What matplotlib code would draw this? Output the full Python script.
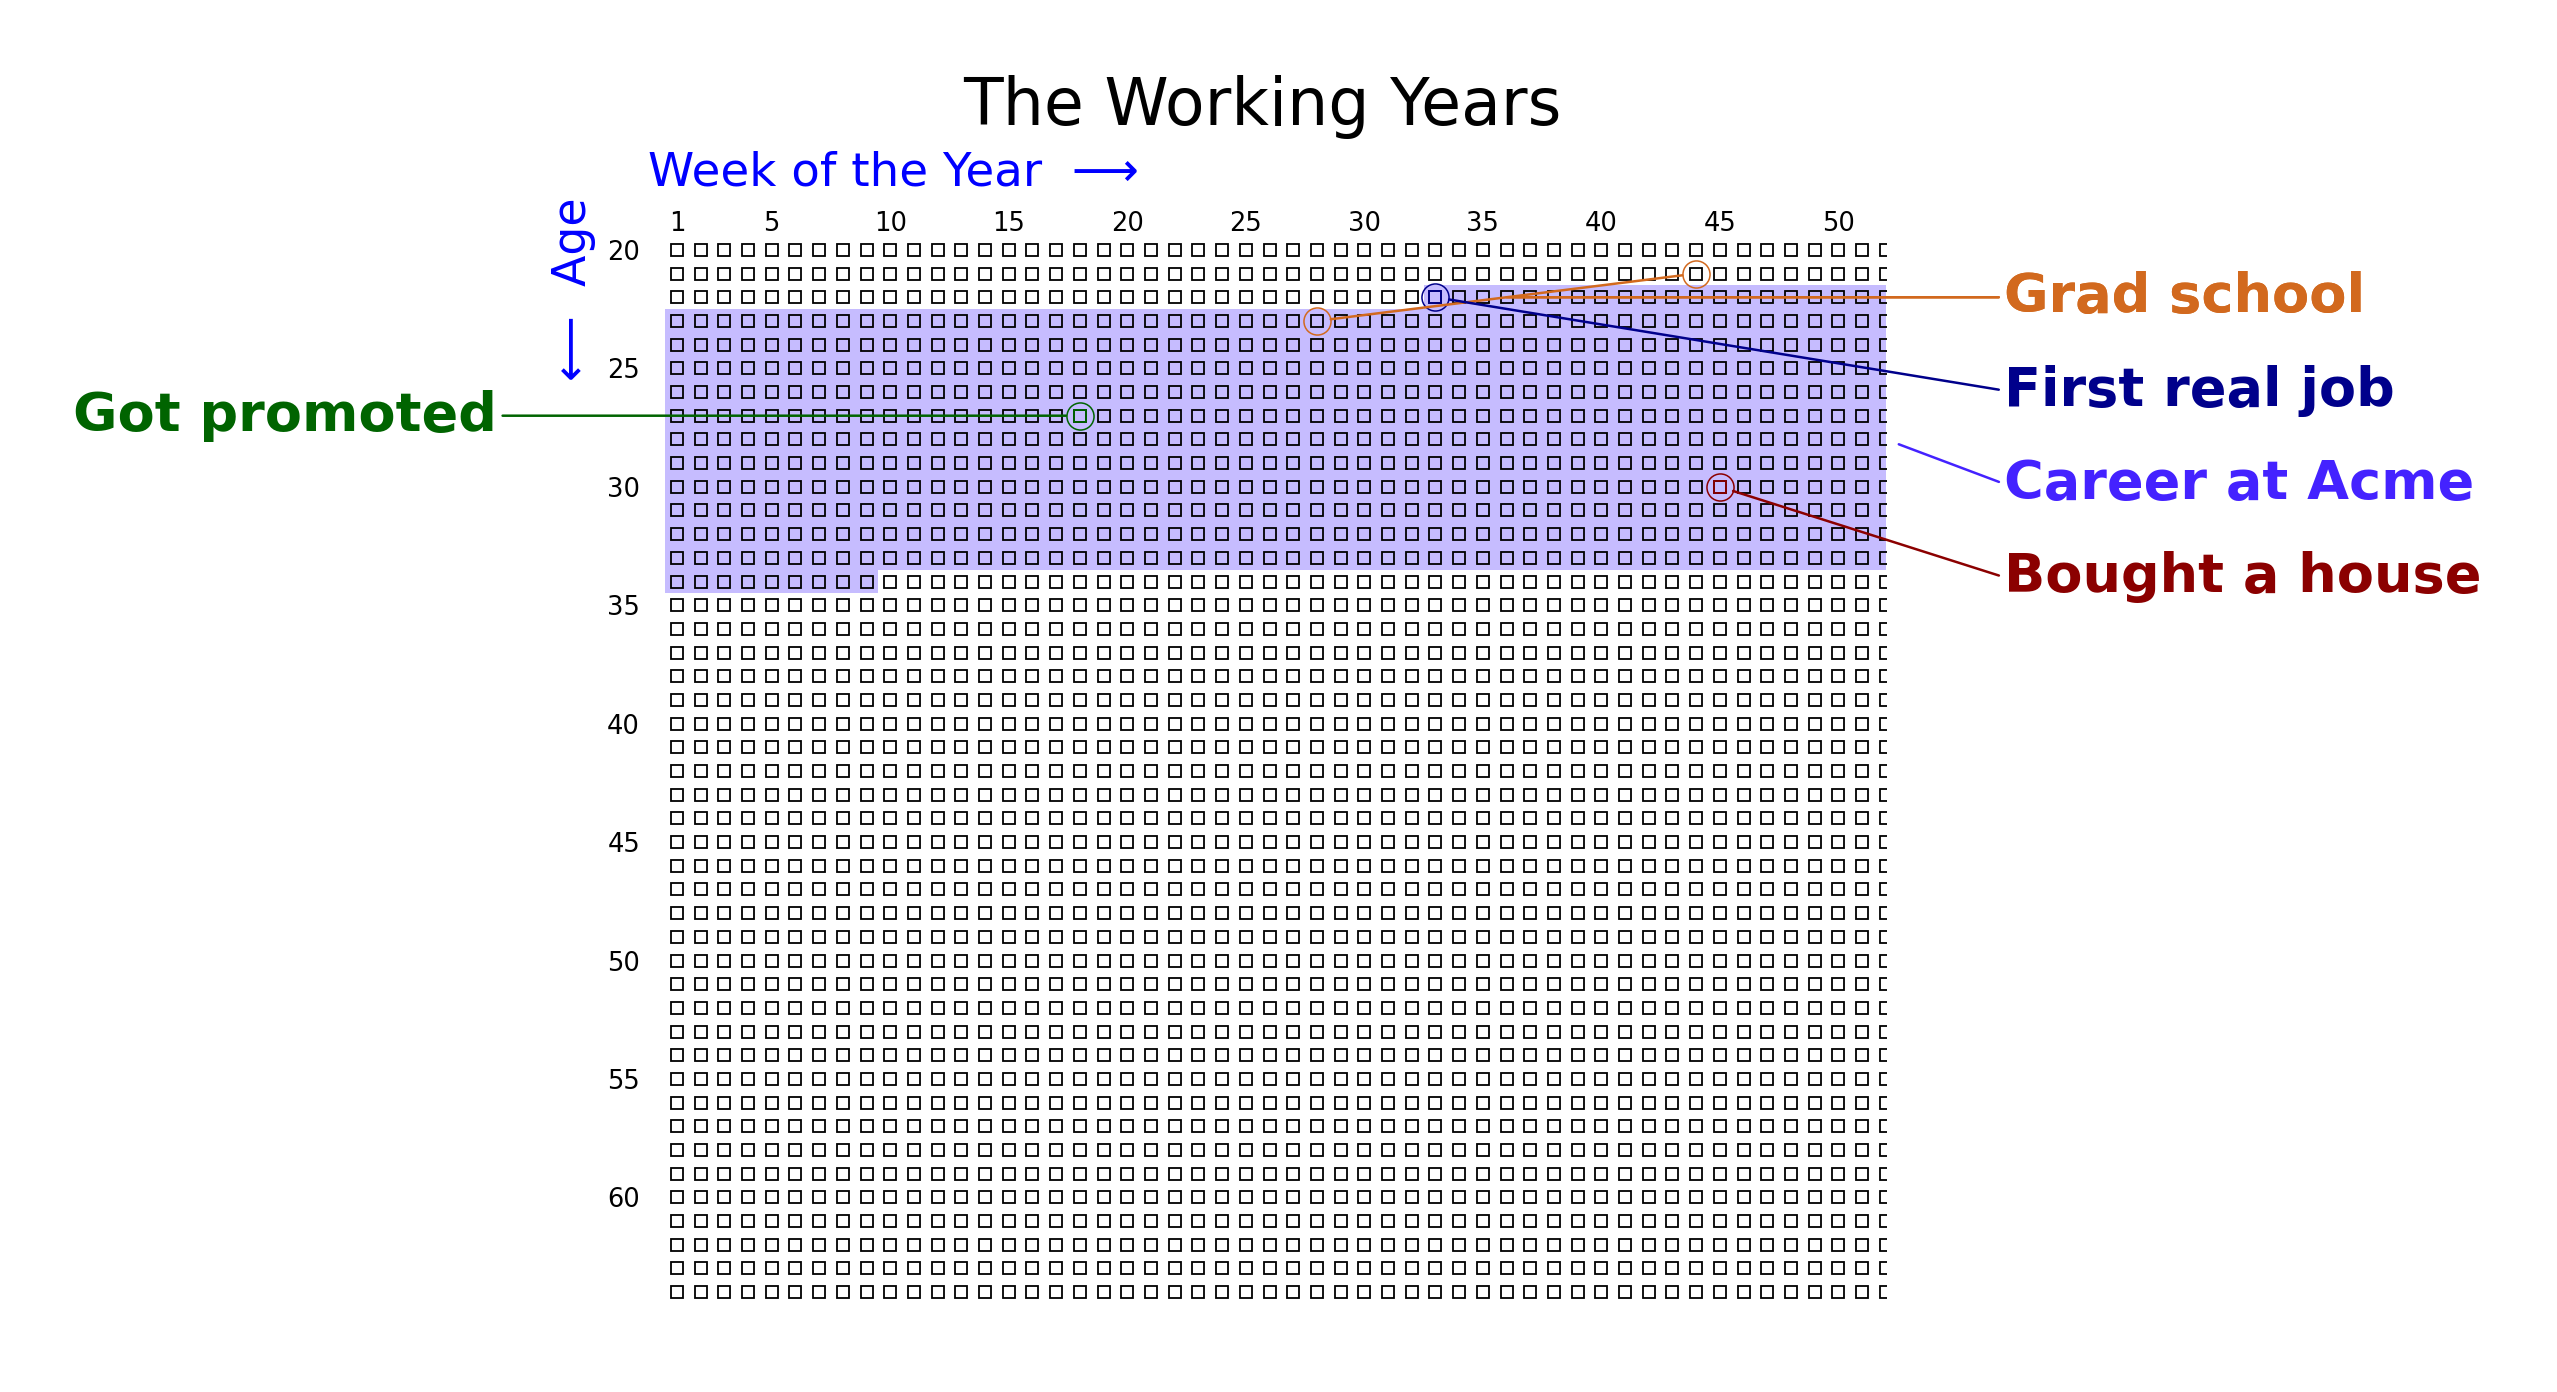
import numpy as np
import matplotlib
matplotlib.use("Agg")
import matplotlib.pyplot as plt

# grid of weeks x ages
weeks = np.arange(1, 53)
ages = np.arange(20, 65)

# career span (week, age)
career_start = (33, 22)
career_end = (9, 34)

# life events
grad_weeks = [28, 44]
grad_ages = [23, 21]
job_week, job_age = 33, 22
house_week, house_age = 45, 30
promo_week, promo_age = 18, 27

xticks = [1, 5, 10, 15, 20, 25, 30, 35, 40, 45, 50]
yticks = [20, 25, 30, 35, 40, 45, 50, 55, 60]

c_grad = '#d2691e'
c_job = '#00008b'
c_acme = '#4422ff'
c_house = '#8b0000'
c_promo = '#006400'

fig = plt.figure(figsize=(25.57, 13.92), dpi=100)
ax = fig.add_axes([0.2601, 0.0632, 0.4774, 0.7658])

xmin, xmax = 0.5, 52
ax.set_xlim(xmin, xmax)
ax.set_ylim(ages[-1] + 0.5, ages[0] - 0.5)

# shaded career block
sw, sa = career_start
ew, ea = career_end
right = weeks[-1] + 0.5
poly_x = [sw - 0.5, right, right, ew + 0.5, ew + 0.5, xmin, xmin, sw - 0.5]
poly_y = [sa - 0.5, sa - 0.5, ea - 0.5, ea - 0.5, ea + 0.5, ea + 0.5, sa + 0.5, sa + 0.5]
ax.fill(poly_x, poly_y, color=c_acme, alpha=0.3, lw=0)

# the week boxes
W, A = np.meshgrid(weeks, ages)
ax.plot(W.ravel(), A.ravel(), 's', ls='none', mfc='none', mec='black', ms=8.5, mew=1.3)

# coloured boxes for single events
ax.plot([job_week], [job_age], 's', mfc='none', mec=c_job, ms=8.5, mew=1.3)
ax.plot([house_week], [house_age], 's', mfc='none', mec=c_house, ms=8.5, mew=1.3)
ax.plot([promo_week], [promo_age], 's', mfc='none', mec=c_promo, ms=8.5, mew=1.3)

# circles
circ = dict(ls='none', mfc='none', ms=19.5, mew=1.1, clip_on=False)
ax.plot(grad_weeks, grad_ages, 'o', mec=c_grad, **circ)
ax.plot([job_week], [job_age], 'o', mec=c_job, **circ)
ax.plot([house_week], [house_age], 'o', mec=c_house, **circ)
ax.plot([promo_week], [promo_age], 'o', mec=c_promo, **circ)

lab_x = 57.0
lab_rows = [22, 25.94, 29.88, 33.82]
fs_lab = 39
lw = 1.8

ang = np.degrees(np.arctan2(grad_ages[0] - grad_ages[1], grad_weeks[1] - grad_weeks[0]))
for gw, ga in zip(grad_weeks, grad_ages):
    ax.annotate('Grad school', xy=(gw, ga), xytext=(lab_x, lab_rows[0]),
                ha='left', va='center', fontsize=fs_lab, fontweight='bold', color=c_grad,
                annotation_clip=False,
                arrowprops=dict(arrowstyle='-', color=c_grad, lw=lw, shrinkB=10,
                                relpos=(0, 0.5),
                                connectionstyle='angle,angleA=0,angleB=%.3f' % ang))

ax.annotate('First real job', xy=(job_week, job_age), xytext=(lab_x, lab_rows[1]),
            ha='left', va='center', fontsize=fs_lab, fontweight='bold', color=c_job,
            annotation_clip=False,
            arrowprops=dict(arrowstyle='-', color=c_job, lw=lw, shrinkB=10, relpos=(0, 0.5)))

ax.annotate('Career at Acme', xy=(xmax, 28), xytext=(lab_x, lab_rows[2]),
            ha='left', va='center', fontsize=fs_lab, fontweight='bold', color=c_acme,
            annotation_clip=False,
            arrowprops=dict(arrowstyle='-', color=c_acme, lw=lw, shrinkB=10, relpos=(0, 0.5)))

ax.annotate('Bought a house', xy=(house_week, house_age), xytext=(lab_x, lab_rows[3]),
            ha='left', va='center', fontsize=fs_lab, fontweight='bold', color=c_house,
            annotation_clip=False,
            arrowprops=dict(arrowstyle='-', color=c_house, lw=lw, shrinkB=10, relpos=(0, 0.5)))

ax.annotate('Got promoted', xy=(promo_week, promo_age), xytext=(-6.59, promo_age),
            ha='right', va='center', fontsize=fs_lab, fontweight='bold', color=c_promo,
            annotation_clip=False,
            arrowprops=dict(arrowstyle='-', color=c_promo, lw=lw, shrinkB=10, relpos=(1, 0.5)))

# axes cosmetics
ax.xaxis.tick_top()
ax.set_xticks(xticks)
ax.set_yticks(yticks)
ax.tick_params(axis='x', length=0, labelsize=18.5, pad=1)
ax.tick_params(axis='y', length=0, labelsize=18.5, pad=18)
for s in ax.spines.values():
    s.set_visible(False)

fig.text(0.4935, 0.9102, 'The Working Years', fontsize=46.7, ha='center', va='baseline')
fig.text(0.2533, 0.8664, 'Week of the Year  \u27f6', fontsize=33.7, color='blue',
         ha='left', va='baseline')
fig.text(0.2241, 0.8585, '\u27f5  Age', fontsize=33, color='blue', rotation=90,
         ha='center', va='top')

fig.savefig('out.png', dpi=100)
